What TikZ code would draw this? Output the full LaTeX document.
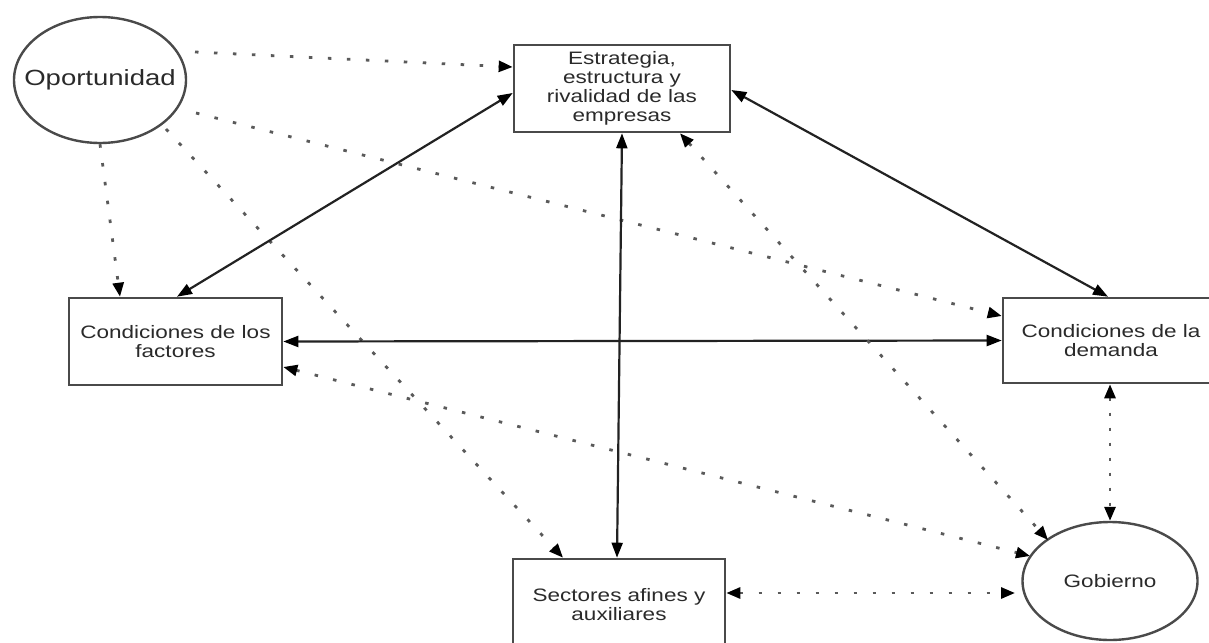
\documentclass[tikz,border=0pt]{standalone}
\usepackage{fontspec}
\setmainfont{Liberation Sans}[FakeStretch=1.25]
\usetikzlibrary{arrows.meta,shapes.geometric,calc}
\definecolor{boxc}{HTML}{4A4A4A}
\definecolor{linec}{HTML}{222222}
\definecolor{dotc}{HTML}{5A5A5A}
\definecolor{txt}{HTML}{2A2A2A}
\begin{document}
\begin{tikzpicture}[x=1pt,y=-1pt,
  box/.style={draw=boxc, line width=2.6pt, rectangle, align=center, inner sep=0pt,
    font=\fontsize{18}{19}\selectfont, text=txt},
  oval/.style={draw=boxc, line width=2.4pt, ellipse, inner sep=0pt, align=center, text=txt},
  solidlink/.style={line width=2.2pt, draw=linec, {Triangle[length=15pt,width=11pt,color=black]}-{Triangle[length=15pt,width=11pt,color=black]}},
  dotone/.style={line width=2.8pt, draw=dotc, dash pattern=on 3.5pt off 15.5pt, -{Triangle[length=14pt,width=11pt,color=black]}},
  dottwo/.style={line width=2.8pt, draw=dotc, dash pattern=on 3.5pt off 15.5pt, {Triangle[length=14pt,width=11pt,color=black]}-{Triangle[length=14pt,width=11pt,color=black]}}
]
\fill[white] (0,0) rectangle (1209,642);
\useasboundingbox (0,0) rectangle (1209,642);

% nodes
\node[oval, minimum width=172pt, minimum height=126pt, font=\fontsize{22}{24}\selectfont] (op) at (100,80) {\makebox[0pt]{Oportunidad}};
\node[box, minimum width=216pt, minimum height=87pt] (est) at (622,88.5) {Estrategia,\\ estructura y\\ rivalidad de las\\ empresas};
\node[box, minimum width=213pt, minimum height=87pt] (cf) at (175.5,341.5) {Condiciones de los\\ factores};
\node[box, minimum width=216pt, minimum height=85pt] (cd) at (1111,340.5) {Condiciones de la\\ demanda};
\node[box, minimum width=212pt, minimum height=92pt] (sa) at (619,605) {Sectores afines y\\ auxiliares};
\node[oval, minimum width=175pt, minimum height=118pt, font=\fontsize{18}{19}\selectfont] (gob) at (1110,581) {\makebox[0pt]{Gobierno}};

% dotted single-headed from Oportunidad
\draw[dotone] ($(op.center)+(95,-28)$) -- ($(est.west)+(0,-21.5)$);
\draw[dotone] (op.south) -- ($(cf.north)+(-55.5,0)$);
\draw[dotone] ($(op.center)+(96,33)$) -- ($(cd.west)+(0,-24.5)$);
\draw[dotone] ($(op.center)+(66,49)$) -- ($(sa.north)+(-56,0)$);

% solid double-headed
\draw[solidlink] ($(est.west)+(0,4.5)$) -- ($(cf.north)+(1.5,0)$);
\draw[solidlink] (est.south) -- ($(sa.north)+(-2,0)$);
\draw[solidlink] ($(est.east)+(0,1.5)$) -- ($(cd.north)+(-3,0)$);
\draw[solidlink] (cf.east) -- (cd.west);

% dotted double-headed
\draw[dottwo] ($(est.south)+(58,0)$) -- ($(gob.center)+(-62,-41)$);
\draw[dottwo] ($(cf.east)+(0,25.5)$) -- ($(gob.center)+(-80,-25)$);
\draw[dottwo, dash pattern=on 3.5pt off 11.5pt] ($(cd.south)+(-1,0)$) -- (gob.north);
\draw[dottwo] ($(sa.east)+(0,-12)$) -- ($(gob.center)+(-95,12)$);
\end{tikzpicture}
\end{document}
